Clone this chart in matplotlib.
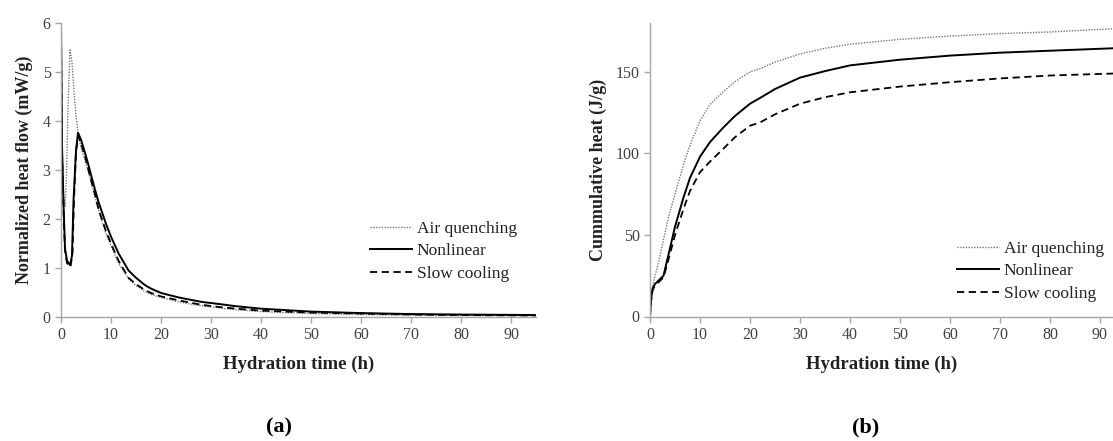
import matplotlib
matplotlib.use('Agg')
import matplotlib.pyplot as plt

plt.rcParams['font.family'] = ['Liberation Serif', 'DejaVu Serif']

# (a) normalized heat flow, mW/g
t_air_a = [0, 0.2, 0.5, 0.8, 1.1, 1.4, 1.8, 2.2, 2.6, 3.0, 3.5, 4.0, 4.8, 5.5, 6.0, 6.8, 7.5, 8.0, 9.0, 10, 11.5, 13.5, 15, 16.8, 18, 20, 23.5, 25, 28, 32, 35, 40, 50, 60, 70, 80, 95]
hf_air = [6.0, 3.6, 2.5, 2.26, 2.9, 4.3, 5.45, 5.2, 4.6, 4.1, 3.7, 3.45, 3.2, 2.95, 2.75, 2.45, 2.2, 2.0, 1.7, 1.45, 1.1, 0.78, 0.64, 0.52, 0.46, 0.40, 0.31, 0.28, 0.23, 0.18, 0.15, 0.11, 0.07, 0.05, 0.04, 0.03, 0.03]

t_non_a = [0, 0.2, 0.5, 0.8, 1.2, 1.8, 2.2, 2.5, 3.0, 3.4, 4.0, 4.8, 5.5, 6.0, 6.8, 7.5, 8.0, 9.0, 10, 11.5, 13.5, 15, 16.8, 18, 20, 23.5, 25, 28, 32, 35, 40, 50, 60, 70, 80, 95]
hf_non = [6.0, 3.5, 2.3, 1.4, 1.15, 1.06, 1.25, 2.37, 3.4, 3.76, 3.62, 3.35, 3.1, 2.9, 2.6, 2.35, 2.2, 1.9, 1.64, 1.3, 0.95, 0.8, 0.65, 0.58, 0.49, 0.40, 0.37, 0.31, 0.26, 0.22, 0.17, 0.11, 0.08, 0.06, 0.05, 0.04]

t_slow_a = [0, 0.2, 0.5, 0.8, 1.2, 1.9, 2.3, 2.6, 3.0, 3.4, 4.0, 4.8, 5.5, 6.0, 6.8, 7.5, 8.0, 9.0, 10, 11.5, 13.5, 15, 16.8, 18, 20, 23.5, 25, 28, 32, 35, 40, 50, 60, 70, 80, 95]
hf_slow = [6.0, 3.4, 2.2, 1.35, 1.1, 1.02, 1.3, 2.4, 3.35, 3.7, 3.55, 3.28, 3.0, 2.8, 2.5, 2.2, 2.05, 1.75, 1.5, 1.15, 0.8, 0.67, 0.55, 0.49, 0.42, 0.34, 0.31, 0.25, 0.2, 0.17, 0.13, 0.09, 0.07, 0.05, 0.04, 0.03]

# (b) cumulative heat, J/g
t_b = [0, 0.2, 0.5, 1.0, 1.7, 2.7, 3.7, 5.0, 6.7, 8.0, 10, 12, 14.7, 17, 20, 22, 25, 30, 35, 40, 50, 60, 70, 80, 92.6]
ch_air = [0, 11, 18, 25, 33, 47, 61, 75, 93, 105, 120, 130, 138, 144, 150, 152, 156, 161, 164.5, 167, 170, 172, 173.5, 174.5, 176.5]
ch_non = [0, 10, 17, 20, 22, 25, 38, 55, 73, 85, 98, 107, 116, 123, 130.5, 134, 139.5, 146.5, 150.5, 154, 157.5, 160, 161.8, 163, 164.5]
ch_slow = [0, 9, 16, 19, 21, 24, 35, 50, 66, 77, 88.5, 95, 103, 110, 117, 119, 124, 130.5, 134.5, 137.5, 141, 143.7, 146, 147.8, 149]

labels = ['Air quenching', 'Nonlinear', 'Slow cooling']

W, H = 1113, 441
fig = plt.figure(figsize=(W / 100, H / 100), dpi=100)
ax1 = fig.add_axes([61 / W, 1 - 317 / H, 475 / W, 294 / H])
ax2 = fig.add_axes([650 / W, 1 - 316.5 / H, 463 / W, 293.5 / H])

gray = '#a6a6a6'
txt = '#404040'

def style(ax):
    for s in ['top', 'right']:
        ax.spines[s].set_visible(False)
    for s in ['left', 'bottom']:
        ax.spines[s].set_color(gray)
        ax.spines[s].set_linewidth(1.0)
    ax.tick_params(direction='out', length=4, color=gray, labelcolor=txt, labelsize=11.5, width=1.0)
    ax.set_xticks(range(0, 100, 10))
    ax.set_xlabel('Hydration time (h)', fontsize=13.5, fontweight='bold', color='#222222', labelpad=9)

def add_legend(ax, x, y):
    ax.legend(loc='upper left', bbox_to_anchor=(x / W, 1 - y / H), bbox_transform=fig.transFigure,
              frameon=False, fontsize=12.5, handlelength=2.4, handletextpad=0.3, labelspacing=0.35,
              borderpad=0, borderaxespad=0, labelcolor='#222222')

ax1.plot(t_air_a, hf_air, color='#777777', lw=1.0, ls=(0, (1, 1)), label=labels[0])
ax1.plot(t_non_a, hf_non, color='black', lw=1.4, label=labels[1])
ax1.plot(t_slow_a, hf_slow, color='black', lw=1.3, ls=(0, (4, 2.5)), label=labels[2])
ax1.set_xlim(0, 95)
ax1.set_ylim(0, 6)
ax1.set_yticks(range(0, 7))
style(ax1)
ax1.set_ylabel('Normalized heat flow (mW/g)', fontsize=13, fontweight='bold', color='#222222', labelpad=7)
add_legend(ax1, 370, 221)

ax2.plot(t_b, ch_air, color='#777777', lw=1.0, ls=(0, (1, 1)), label=labels[0])
ax2.plot(t_b, ch_non, color='black', lw=1.4, label=labels[1])
ax2.plot(t_b, ch_slow, color='black', lw=1.3, ls=(0, (4, 2.5)), label=labels[2])
ax2.set_xlim(0, 92.6)
ax2.set_ylim(0, 180)
ax2.set_yticks([0, 50, 100, 150])
style(ax2)
ax2.set_ylabel('Cummulative heat (J/g)', fontsize=13, fontweight='bold', color='#222222', labelpad=6)
add_legend(ax2, 957, 241)

fig.text(279 / W, 1 - 427 / H, '(a)', ha='center', va='center', fontsize=16, fontweight='bold')
fig.text(866 / W, 1 - 427 / H, '(b)', ha='center', va='center', fontsize=16, fontweight='bold')

fig.savefig('out.png', dpi=100)
